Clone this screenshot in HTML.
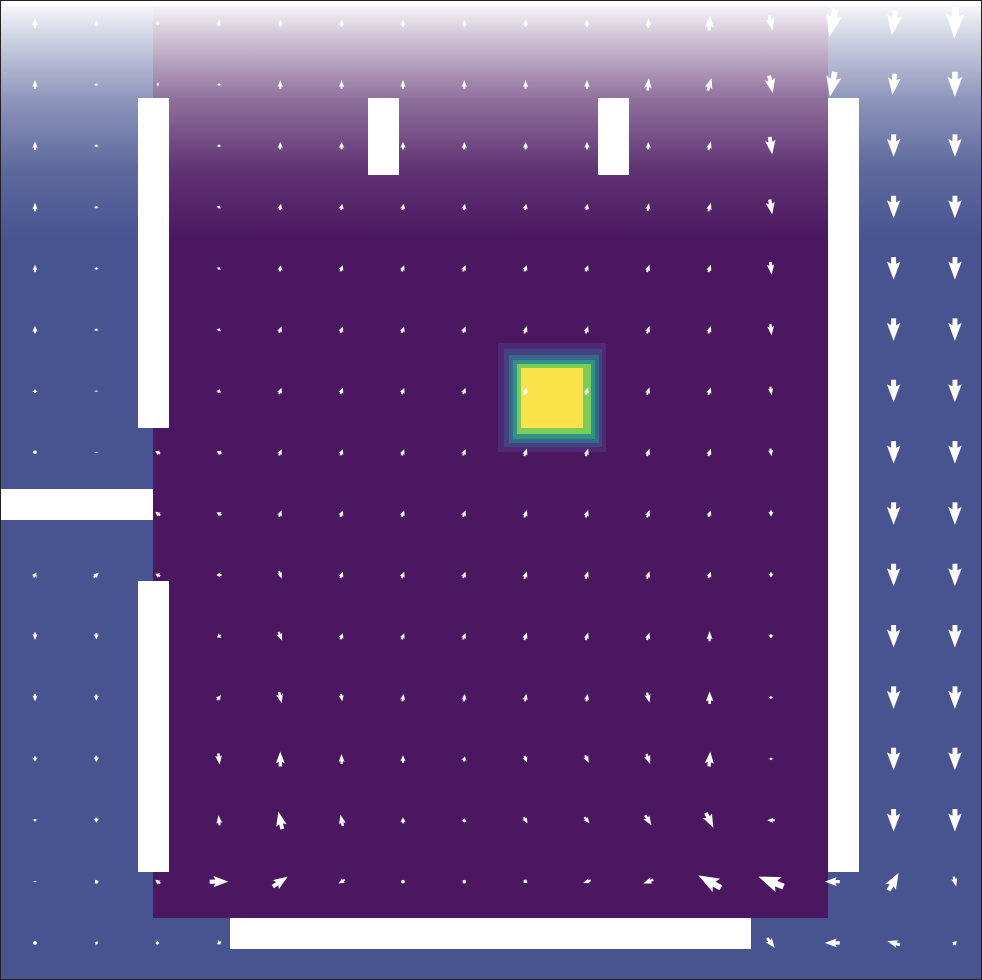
<!DOCTYPE html>
<html><head><meta charset="utf-8"><style>
html,body{margin:0;padding:0;background:#fff;}
svg{display:block;}
</style></head><body>
<svg id="chart" width="982" height="980" viewBox="0 0 982 980" xmlns="http://www.w3.org/2000/svg">
<defs>
<linearGradient id="fade" x1="0" y1="0" x2="0" y2="1">
<stop offset="0" stop-color="#fff" stop-opacity="0.95"/>
<stop offset="0.15" stop-color="#fff" stop-opacity="0.72"/>
<stop offset="0.4" stop-color="#fff" stop-opacity="0.38"/>
<stop offset="0.7" stop-color="#fff" stop-opacity="0.12"/>
<stop offset="1" stop-color="#fff" stop-opacity="0"/>
</linearGradient>
</defs>
<rect x="0" y="0" width="982" height="980" fill="#475490"/>
<rect x="153" y="0" width="675" height="918" fill="#4a1760"/>
<g id="blob">
<rect x="498" y="343" width="108" height="109" fill="#52307a" opacity="0.75"/>
<rect x="504" y="349" width="98" height="98" fill="#43447f"/>
<rect x="509" y="355" width="90" height="88" fill="#39668c"/>
<rect x="513" y="360" width="82" height="79" fill="#2f9488"/>
<rect x="517" y="364" width="74" height="70" fill="#7ccc58"/>
<rect x="521" y="368" width="62" height="60" fill="#fbe14a"/>
</g>
<rect x="0" y="6" width="982" height="235" fill="url(#fade)"/>
<rect x="0" y="0" width="982" height="6" fill="#fff"/>
<g id="arrows"></g>
<g id="walls">
<rect x="138" y="98" width="31" height="330" fill="#fff"/>
<rect x="138" y="581" width="31" height="291" fill="#fff"/>
<rect x="0" y="489" width="153" height="31" fill="#fff"/>
<rect x="368" y="98" width="31" height="77" fill="#fff"/>
<rect x="598" y="98" width="31" height="77" fill="#fff"/>
<rect x="828" y="98" width="31" height="774" fill="#fff"/>
<rect x="230" y="918" width="521" height="31" fill="#fff"/>
</g>
<rect x="0.5" y="0.5" width="981" height="979" fill="none" stroke="#222" stroke-width="1"/>
</svg>
<script>
// grid: 16 columns x 16 rows; vectors in screen units (dx, dy; dy positive = down)
const colCount = 16;
const rowCount = 16;
const U = [
 [0,0,0,1,0,0,0,0,0,0,0,1,3,-5,-3,-1],
 [0,0,-2,0,0,0,0,0,0,0,1,3,3,-4,-2,0],
 [0,0,0,0,0,0,0,0,0,0,0,2,2,0,0,0],
 [0,0,0,1,1,1,1,1,1,1,1,2,2,0,0,0],
 [0,0,0,1,1,2,2,2,2,2,2,2,1,0,0,0],
 [0,0,0,1,2,2,2,2,2,2,2,2,1,0,0,0],
 [0,0,0,1,2,2,2,2,2,2,2,2,1,0,0,0],
 [0,0,-4,-4,2,2,2,2,2,2,2,2,1,0,0,0],
 [0,0,-4,-4,2,2,2,2,2,2,2,2,0,0,0,0],
 [2,4,-4,-4,2,2,2,2,2,2,2,2,0,0,0,0],
 [0,0,0,-3,3,2,2,2,2,2,2,0,0,0,0,0],
 [0,0,0,3,2,1,1,1,1,1,2,0,0,0,0,0],
 [0,0,0,1,0,0,0,1,2,3,3,1,0,0,0,0],
 [0,0,0,-1,-3,-2,0,1,3,4,5,6,-6,0,0,0],
 [0,-2,-4,15,12,-5,0,0,3,-6,-8,-18,-20,-12,8,2],
 [0,-2,3,-3,0,0,0,0,0,0,0,0,6,-12,-10,3]
];
const V = [
 [-8,-5,-3,-5,-6,-6,-6,-6,-6,-6,-8,-12,12,22,20,25],
 [-7,-2,0,-2,-7,-7,-7,-7,-7,-7,-10,-10,14,20,17,20],
 [-7,-2,0,-2,-6,-6,-6,-6,-6,-6,-6,-7,14,0,18,18],
 [-7,-2,0,-2,-5,-5,-5,-5,-5,-5,-6,-7,12,0,18,18],
 [-6,-2,0,-2,-5,-5,-5,-5,-5,-5,-6,-6,10,0,18,18],
 [-6,-2,0,-2,-5,-5,-5,-5,-6,-6,-6,-6,9,0,18,18],
 [-3,-1,0,-3,-5,-5,-5,-5,-6,-6,-6,-6,7,0,18,18],
 [0,-1,-2,-2,-5,-5,-5,-5,-6,-6,-6,-6,6,0,18,18],
 [0,0,-3,-2,-5,-5,-5,-5,-6,-6,-6,-5,5,0,18,18],
 [-4,-4,-2,0,6,-5,-5,-5,-6,-6,-6,-5,4,0,18,18],
 [6,5,0,2,7,-5,-5,-5,-6,-6,-6,-8,3,0,18,18],
 [6,5,0,-4,9,6,-6,-6,-6,-6,8,-10,2,0,18,18],
 [4,5,0,9,-12,-8,-6,-4,5,6,8,-12,2,0,18,18],
 [2,4,0,-8,-14,-9,-5,-3,5,5,8,12,0,0,18,18],
 [1,-3,-3,0,-8,3,0,0,2,2,3,-10,-8,0,-14,8],
 [0,-1,0,2,0,0,0,0,0,0,0,0,8,0,-3,-3]
];
const x0 = 35, y0 = 23, step = 61.33, scale = 1.25;
function xPos(c){ return x0 + c*step; }
function yPos(r){ return y0 + r*step; }
const g = document.getElementById('arrows');
const NS = 'http://www.w3.org/2000/svg';
for (let r = 0; r < rowCount; r++) {
  for (let c = 0; c < colCount; c++) {
    const dx = U[r][c]*scale, dy = V[r][c]*scale;
    const cx = xPos(c), cy = yPos(r);
    const L = Math.hypot(dx, dy);
    let el;
    if (L < 0.5) {
      el = document.createElementNS(NS, 'circle');
      el.setAttribute('cx', cx); el.setAttribute('cy', cy); el.setAttribute('r', 1.8);
    } else {
      const ux = dx / L, uy = dy / L, px = -uy, py = ux;
      const tx = cx - dx/2, ty = cy - dy/2, hx = cx + dx/2, hy = cy + dy/2;
      const hl = L*0.8, hw = Math.max(2.6, L*0.3), sw = Math.max(1, L*0.11);
      const bx = hx - ux*hl, by = hy - uy*hl;
      const nx = bx + ux*hl*0.12, ny = by + uy*hl*0.12;
      const pts = [
        [tx+px*sw, ty+py*sw], [nx+px*sw, ny+py*sw], [bx+px*hw, by+py*hw],
        [hx, hy], [bx-px*hw, by-py*hw], [nx-px*sw, ny-py*sw], [tx-px*sw, ty-py*sw]
      ];
      el = document.createElementNS(NS, 'polygon');
      el.setAttribute('points', pts.map(p => p[0].toFixed(1)+','+p[1].toFixed(1)).join(' '));
    }
    el.setAttribute('fill', '#fff');
    
    
    g.appendChild(el);
  }
}
</script>
</body></html>
